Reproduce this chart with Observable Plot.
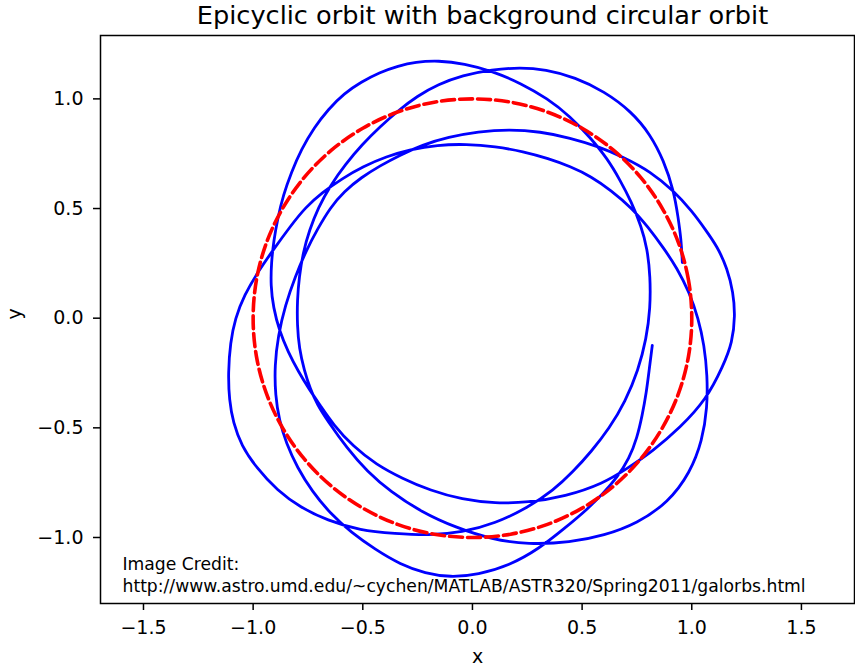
<!DOCTYPE html>
<html><head><meta charset="utf-8">
<script src="https://cdn.jsdelivr.net/npm/d3@7"></script>
<script src="https://cdn.jsdelivr.net/npm/@observablehq/plot@0.6"></script>
<style>body{margin:0;background:#fff}</style>
</head><body><div id="chart"></div>
<script>
// Epicyclic orbit, in drawing order [x, y]
const orbitPoints = [
[0.957,0.254],[0.952,0.354],[0.938,0.459],[0.918,0.582],[0.872,0.719],[0.811,0.838],[0.724,0.943],[0.601,1.034],
[0.469,1.098],[0.332,1.134],[0.218,1.143],[0.090,1.134],[-0.047,1.107],[-0.156,1.066],[-0.252,1.013],[-0.338,0.947],
[-0.420,0.874],[-0.503,0.792],[-0.580,0.701],[-0.648,0.605],[-0.703,0.505],[-0.744,0.400],[-0.772,0.300],[-0.790,0.190],
[-0.799,0.081],[-0.799,-0.033],[-0.790,-0.138],[-0.767,-0.238],[-0.740,-0.321],[-0.708,-0.394],
[-0.662,-0.466],[-0.571,-0.594],[-0.480,-0.699],[-0.375,-0.790],[-0.229,-0.886],[-0.078,-0.954],[0.090,-1.009],
[0.254,-1.032],[0.446,-1.023],[0.601,-0.991],[0.751,-0.936],[0.893,-0.840],[0.993,-0.704],[1.048,-0.558],
[1.071,-0.407],[1.071,-0.261],[1.057,-0.124],[1.030,-0.001],[0.989,0.117],[0.934,0.227],[0.870,0.322],[0.802,0.414],
[0.724,0.505],[0.633,0.582],[0.542,0.646],[0.446,0.692],[0.346,0.728],[0.232,0.760],[0.104,0.783],[-0.028,0.794],
[-0.161,0.790],[-0.284,0.769],[-0.393,0.737],[-0.498,0.692],[-0.594,0.637],[-0.685,0.573],[-0.762,0.505],[-0.831,0.418],
[-0.904,0.318],[-0.977,0.213],[-1.041,0.104],[-1.082,-0.001],[-1.104,-0.111],[-1.114,-0.248],[-1.109,-0.375],
[-1.091,-0.476],[-1.054,-0.580],[-0.986,-0.681],[-0.890,-0.786],[-0.785,-0.863],[-0.662,-0.922],[-0.512,-0.968],
[-0.352,-0.982],[-0.202,-0.991],[-0.047,-0.977],[0.104,-0.936],[0.254,-0.863],[0.368,-0.786],[0.460,-0.699],
[0.542,-0.608],[0.624,-0.503],[0.697,-0.380],[0.756,-0.238],[0.793,-0.093],[0.811,0.044],[0.811,0.190],[0.797,0.318],
[0.770,0.418],[0.724,0.532],[0.674,0.628],[0.615,0.728],[0.537,0.824],[0.446,0.920],[0.341,1.002],[0.223,1.070],
[0.090,1.127],[-0.037,1.161],[-0.156,1.175],
[-0.261,1.168],[-0.338,1.150],[-0.425,1.120],[-0.507,1.077],[-0.585,1.025],[-0.658,0.952],[-0.721,0.870],[-0.781,0.769],
[-0.826,0.664],[-0.863,0.560],[-0.888,0.455],[-0.906,0.354],[-0.917,0.254],[-0.920,0.149],[-0.908,0.049],[-0.881,-0.056],
[-0.840,-0.156],[-0.794,-0.243],[-0.744,-0.325],[-0.694,-0.398],[-0.635,-0.485],[-0.544,-0.585],[-0.439,-0.667],
[-0.320,-0.731],[-0.192,-0.786],[-0.047,-0.827],[0.104,-0.845],[0.254,-0.840],[0.423,-0.813],[0.596,-0.754],
[0.706,-0.685],[0.820,-0.608],[0.948,-0.498],[1.066,-0.371],[1.144,-0.216],[1.185,-0.111],[1.198,0.012],[1.189,0.117],
[1.162,0.227],[1.116,0.327],[1.062,0.404],[1.002,0.487],[0.916,0.582],[0.811,0.669],[0.692,0.733],[0.574,0.783],
[0.446,0.822],[0.309,0.851],[0.168,0.861],[0.026,0.851],[-0.110,0.826],[-0.229,0.790],[-0.334,0.742],
[-0.420,0.696],[-0.507,0.642],[-0.585,0.578],[-0.648,0.505],[-0.708,0.404],[-0.758,0.309],[-0.808,0.190],
[-0.854,0.058],[-0.886,-0.079],[-0.902,-0.216],[-0.899,-0.352],
[-0.881,-0.466],[-0.849,-0.571],[-0.799,-0.681],[-0.731,-0.790],[-0.648,-0.891],[-0.553,-0.977],[-0.443,-1.055],
[-0.329,-1.123],[-0.215,-1.164],[-0.101,-1.182],[0.026,-1.169],[0.168,-1.128],[0.305,-1.050],[0.419,-0.959],
[0.523,-0.872],[0.596,-0.799],[0.660,-0.726],[0.715,-0.640],[0.751,-0.544],[0.774,-0.444],[0.793,-0.339],
[0.806,-0.234],[0.820,-0.124]
];

// Background circular orbit (radius 1), points read around the dashed circle
const circleX = [1,0.985,0.940,0.866,0.766,0.643,0.5,0.342,0.174,0,-0.174,-0.342,-0.5,-0.643,-0.766,-0.866,-0.940,-0.985,
                 -1,-0.985,-0.940,-0.866,-0.766,-0.643,-0.5,-0.342,-0.174,0,0.174,0.342,0.5,0.643,0.766,0.866,0.940,0.985];
const circleY = [0,0.174,0.342,0.5,0.643,0.766,0.866,0.940,0.985,1,0.985,0.940,0.866,0.766,0.643,0.5,0.342,0.174,
                 0,-0.174,-0.342,-0.5,-0.643,-0.766,-0.866,-0.940,-0.985,-1,-0.985,-0.940,-0.866,-0.766,-0.643,-0.5,-0.342,-0.174];

const xTicks = [-1.5, -1, -0.5, 0, 0.5, 1, 1.5];
const yTicks = [-1, -0.5, 0, 0.5, 1];
const titleText = "Epicyclic orbit with background circular orbit";
const xLabel = "x";
const yLabel = "y";
const creditLines = ["Image Credit:", "http://www.astro.umd.edu/~cychen/MATLAB/ASTR320/Spring2011/galorbs.html"];

const orbit = orbitPoints.map(([x, y]) => ({x, y}));
const circle = circleX.map((x, i) => ({x, y: circleY[i]}));
const fmt = d => d.toFixed(1).replace("-", "\u2212");

const chart = Plot.plot({
  width: 855, height: 668,
  marginLeft: 100, marginRight: 1, marginTop: 35, marginBottom: 65,
  style: {fontFamily: "DejaVu Sans", fontSize: "19px", background: "white", color: "black"},
  x: {domain: [-1.696, 1.742]},
  y: {domain: [-1.301, 1.289]},
  marks: [
    Plot.line(orbit, {x: "x", y: "y", stroke: "#0000ff", strokeWidth: 2.8, curve: "basis"}),
    Plot.line(circle, {x: "x", y: "y", stroke: "#ff0000", strokeWidth: 3.6, strokeDasharray: "13,5", curve: "catmull-rom-closed"}),
    Plot.frame({stroke: "black", strokeWidth: 1.5}),
    Plot.axisX({ticks: xTicks, tickFormat: fmt, tickSize: 7, tickPadding: 10, label: null, strokeWidth: 1.5, fontSize: 19}),
    Plot.axisY({ticks: yTicks, tickFormat: fmt, tickSize: 7, tickPadding: 10, label: null, strokeWidth: 1.5, fontSize: 19}),
    Plot.text([titleText], {frameAnchor: "top", dx: 5, dy: -12, lineAnchor: "bottom", fontSize: 25.6}),
    Plot.text([xLabel], {frameAnchor: "bottom", dy: 59, lineAnchor: "bottom", fontSize: 19}),
    Plot.text([yLabel], {frameAnchor: "left", dx: -86, rotate: -90, fontSize: 19}),
    Plot.text([creditLines.join("\n")], {frameAnchor: "bottom-left", dx: 22, dy: -12, textAnchor: "start", lineAnchor: "bottom", fontSize: 17.2, lineHeight: 1.25})
  ]
});
document.getElementById("chart").appendChild(chart);
</script>
</body></html>
